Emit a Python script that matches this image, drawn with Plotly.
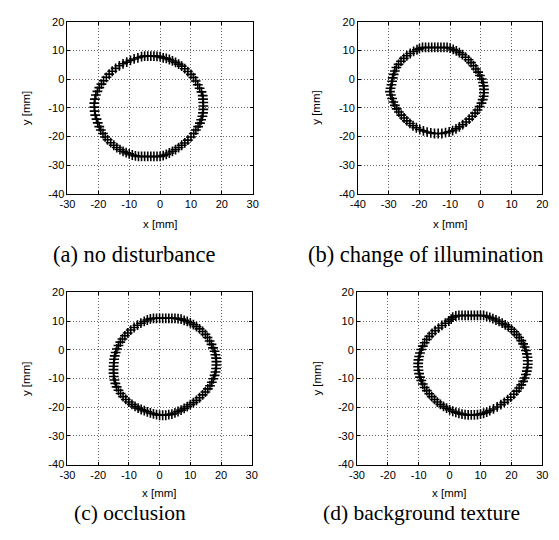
import plotly.graph_objects as go

pts_a = [(-6,7.8),(-5,8),(-4,8),(-3,8),(-2,8),(-1,7.9),(0,7.8),
         (1,7.4),(2,7.2),(3,6.8),(4,6.3),(5,5.8),(6,5.2),(7,4.5),(8,3.6),(9,2.6),(10,1.6),
         (10.8,0.5),(11.5,-0.7),(12.2,-2),(12.8,-3.2),(13.4,-4.5),(13.8,-5.8),(13.9,-7),(14,-8.2),
         (14,-9.4),(14,-10.6),(13.9,-11.8),(13.7,-13),(13.3,-14.2),(12.9,-15.4),(12.3,-16.6),
         (11.6,-17.8),(10.9,-19),(10,-20.2),(9,-21.3),(8,-22.3),(7,-23.1),(6,-23.9),(5,-24.6),
         (4,-25.2),(3,-25.8),(2,-26.3),(1,-26.7),
         (0,-27),(-1,-27),(-2,-27),(-3,-27),(-4,-27),(-5,-27),(-6,-27),(-7,-27),(-8,-26.8),(-9,-26.5),
         (-10,-26.1),(-11,-25.7),(-12,-25.2),(-13,-24.6),(-14,-23.9),(-15,-23.1),(-16,-22.2),(-17,-21.2),
         (-17.8,-20.2),(-18.5,-19),(-19.2,-17.8),(-19.7,-16.6),(-20.2,-15.3),(-20.6,-14),(-21,-12.6),
         (-21.2,-11.2),(-21.3,-9.8),(-21.3,-8.4),(-21.1,-7),(-20.8,-5.6),(-20.3,-4.3),(-19.7,-3),
         (-19,-1.8),(-18.3,-0.6),(-17.4,0.6),(-16.5,1.7),(-15.5,2.7),(-14.4,3.7),(-13.2,4.6),
         (-12,5.3),(-10.8,5.9),(-9.6,6.5),(-8.4,7),(-7.2,7.4)]

pts_b = [(-20,10.6),(-19,11),(-18,11),(-17,11),(-16,11),(-15,11),(-14,11),(-13,11),(-12,11),(-11,11),
         (-10,10.8),(-9,10.3),(-8,9.8),(-7,9.2),(-6,8.5),(-5,7.6),(-4,6.7),(-3.2,5.7),(-2.4,4.6),
         (-1.6,3.5),(-0.9,2.4),(-0.3,1.2),(0.3,0),(0.7,-1.2),(0.9,-2.4),(1,-3.6),(1,-4.8),(0.9,-6),
         (0.6,-7.2),(0.2,-8.4),(-0.4,-9.6),(-1.1,-10.8),(-1.9,-11.9),(-2.8,-13),(-3.8,-14),(-4.8,-15),
         (-5.9,-15.9),(-7,-16.7),(-8.1,-17.4),(-9.2,-18),(-10.3,-18.4),(-11.5,-18.7),(-12.7,-19),
         (-13.9,-19),(-15.1,-19),(-16.3,-18.8),(-17.5,-18.5),(-18.7,-18.1),(-19.9,-17.6),(-21,-17),
         (-22.1,-16.3),(-23.1,-15.5),(-24.1,-14.6),(-25,-13.6),(-25.9,-12.6),(-26.7,-11.5),
         (-27.4,-10.4),(-28,-9.2),(-28.5,-8),(-28.9,-6.8),(-29.3,-5.6),(-29.6,-4.4),(-29.4,-3.2),
         (-29.1,-2),(-28.9,-0.8),(-28.7,0.4),(-28.4,1.6),(-28,2.8),(-27.5,4),(-26.8,5.1),(-26,6.2),
         (-25.1,7.2),(-24.1,8.1),(-23,8.9),(-21.9,9.6),(-20.8,10.2)]

pts_c = [(-3,10.8),(-2,11),(-1,11),(0,11),(1,11),(2,11),(3,11),(4,11),(5,11),(6,10.9),(7,10.7),
         (8,10.3),(9,9.9),(10,9.4),(11,8.8),(12,8.1),(13,7.3),(14,6.4),(14.9,5.4),(15.6,4.3),
         (16.3,3.1),(16.9,1.9),(17.4,0.7),(17.9,-0.5),(18.2,-1.7),(18.4,-2.9),(18.5,-4.1),(18.5,-5.3),
         (18.4,-6.5),(18.2,-7.7),(17.9,-8.9),(17.5,-10.1),(17,-11.3),(16.4,-12.5),(15.7,-13.6),
         (14.9,-14.7),(14,-15.7),(13,-16.7),(12,-17.6),(11,-18.4),(10,-19.1),(9,-19.8),(8,-20.4),
         (7,-21),(6,-21.5),(5,-22),(4,-22.4),(3,-22.6),(2,-22.8),(1,-22.8),(0,-22.8),(-1,-22.6),
         (-2,-22.3),(-3,-22),(-4,-21.6),(-5,-21.2),(-6,-20.8),(-7,-20.3),(-8,-19.7),(-9,-19),
         (-10,-18.2),(-11,-17.3),(-11.9,-16.3),(-12.7,-15.2),(-13.4,-14.1),(-14,-12.9),(-14.4,-11.7),
         (-14.7,-10.5),(-14.9,-9.3),(-15,-8.1),(-15,-6.9),(-15,-5.7),(-14.9,-4.5),(-14.8,-3.3),
         (-14.6,-2.1),(-14.3,-0.9),(-13.9,0.3),(-13.4,1.5),(-12.8,2.7),(-12.1,3.8),(-11.3,4.9),
         (-10.4,5.9),(-9.4,6.9),(-8.3,7.8),(-7.2,8.6),(-6.1,9.3),(-5,9.9),(-4,10.4)]

pts_d = [(1,11.4),(2,11.8),(3,12),(4,12),(5,12),(6,12),(7,12),(8,12),(9,12),(10,12),(11,12),
         (12,11.7),(13,11.3),(14,10.9),(15,10.4),(16,9.9),(17,9.3),(18,8.7),(19,8),(20,7.2),
         (20.9,6.3),(21.7,5.3),(22.5,4.3),(23.2,3.2),(23.8,2.1),(24.3,1),(24.7,-0.2),(25,-1.4),
         (25.2,-2.6),(25.3,-3.8),(25.3,-5),(25.2,-6.2),(25,-7.4),(24.7,-8.6),(24.3,-9.8),(23.8,-11),
         (23.2,-12.2),(22.5,-13.3),(21.7,-14.4),(20.8,-15.5),(19.8,-16.5),(18.8,-17.4),(17.7,-18.3),
         (16.6,-19.1),(15.4,-19.9),(14.2,-20.6),(13,-21.2),(12,-21.7),(11,-22.1),(10,-22.4),
         (9,-22.6),(8,-22.7),(7,-22.7),(6,-22.7),(5,-22.6),(4,-22.4),(3,-22.1),(2,-21.8),(1,-21.4),
         (0,-20.9),(-1,-20.3),(-2,-19.7),(-3,-19),(-4,-18.2),(-4.9,-17.3),(-5.8,-16.3),(-6.6,-15.3),
         (-7.4,-14.2),(-8.1,-13.1),(-8.7,-11.9),(-9.2,-10.7),(-9.6,-9.5),(-9.9,-8.3),(-10.1,-7.1),
         (-10.2,-5.9),(-10.2,-4.7),(-10.1,-3.5),(-9.9,-2.3),(-9.6,-1.1),(-9.2,0.1),(-8.7,1.3),
         (-8.1,2.5),(-7.4,3.6),(-6.6,4.7),(-5.7,5.7),(-4.7,6.7),(-3.6,7.6),(-2.5,8.5),(-1.4,9.3),
         (-0.3,10),(0.5,10.7)]

captions = ["(a) no disturbance", "(b) change of illumination", "(c) occlusion", "(d) background texture"]
x_ticks = [[-30, -20, -10, 0, 10, 20, 30], [-40, -30, -20, -10, 0, 10, 20],
           [-30, -20, -10, 0, 10, 20, 30], [-30, -20, -10, 0, 10, 20, 30]]
y_ticks = [-40, -30, -20, -10, 0, 10, 20]
x_title = "x [mm]"
y_title = "y [mm]"

# ---- layout geometry (pixels) ----
W, H = 559, 540
boxes = [(61, 251, 16, 192), (359, 548, 16, 192), (61, 250, 293, 469), (358, 548, 293, 469)]
cap_pos = [(129, 254), (429, 254), (125, 519), (424, 519)]
xt_y = [223, 223, 498, 498]
yt_x = [18, 316, 18, 316]
cap_size = [22.5, 22.5, 21.5, 21.5]

def px(x):
    return x / W

def py(y):
    return 1 - y / H

def lab(v):
    return str(v)  # plain hyphen-minus, as in the original

fig = go.Figure()
all_pts = [pts_a, pts_b, pts_c, pts_d]
sans = "Liberation Sans, Arial, sans-serif"
tick_font = dict(family=sans, size=11, color="black")
layout = dict(width=W, height=H, margin=dict(l=0, r=0, t=0, b=0),
              paper_bgcolor="white", plot_bgcolor="white", showlegend=False)
annotations = []
for i, (pts, xt, box) in enumerate(zip(all_pts, x_ticks, boxes)):
    n = "" if i == 0 else str(i + 1)
    fig.add_trace(go.Scatter(
        x=[p[0] for p in pts], y=[p[1] for p in pts], mode="markers",
        xaxis="x" + n, yaxis="y" + n,
        marker=dict(symbol="cross-thin", size=7, line=dict(color="black", width=1.6), color="black"),
        hoverinfo="skip"))
    l, r, t, b = box
    common = dict(showline=True, linecolor="black", linewidth=1, mirror="ticks",
                  ticks="inside", ticklen=3, tickcolor="black", tickwidth=1,
                  showgrid=True, gridcolor="rgba(0,0,0,0.6)", griddash="1px,2px", gridwidth=1,
                  zeroline=False, tickfont=tick_font, fixedrange=True, tickmode="array")
    layout["xaxis" + n] = dict(domain=[px(l), px(r)], range=[xt[0], xt[-1]],
                               tickvals=xt, ticktext=[lab(v) for v in xt],
                               anchor="y" + n, **common)
    layout["yaxis" + n] = dict(domain=[py(b), py(t)], range=[y_ticks[0], y_ticks[-1]],
                               tickvals=y_ticks, ticktext=[lab(v) for v in y_ticks],
                               anchor="x" + n, **common)
    annotations.append(dict(text=x_title, x=px((l + r) / 2), y=py(xt_y[i]), xref="paper", yref="paper",
                            showarrow=False, xanchor="center", yanchor="middle", borderpad=0,
                            font=dict(family=sans, size=11.5, color="black")))
    annotations.append(dict(text=y_title, x=px(yt_x[i]), y=py((t + b) / 2), xref="paper", yref="paper",
                            showarrow=False, xanchor="center", yanchor="middle", textangle=-90, borderpad=0,
                            font=dict(family=sans, size=11.5, color="black")))
    cx, cy = cap_pos[i]
    annotations.append(dict(text=captions[i], x=px(cx), y=py(cy), xref="paper", yref="paper",
                            showarrow=False, xanchor="center", yanchor="middle", borderpad=0,
                            font=dict(family="Liberation Serif, Times New Roman, serif",
                                      size=cap_size[i], color="black")))
layout["annotations"] = annotations
fig.update_layout(**layout)
fig.write_html("out.html", config={"displayModeBar": False},
               post_script="document.body.style.margin='0';document.body.style.overflow='hidden';")
